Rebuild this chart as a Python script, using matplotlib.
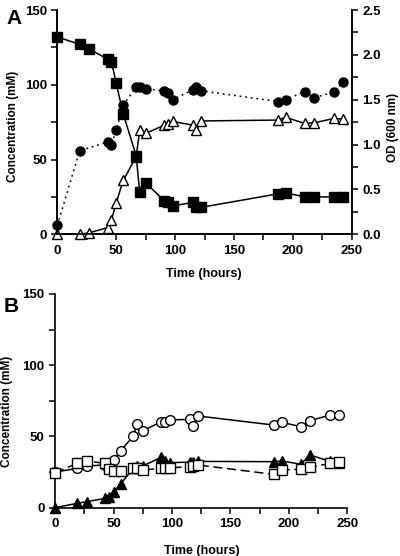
import numpy as np
import matplotlib
matplotlib.use("Agg")
import matplotlib.pyplot as plt
from matplotlib.ticker import MultipleLocator, FormatStrFormatter

plt.rcParams["font.family"] = ["Liberation Sans", "DejaVu Sans"]
plt.rcParams["font.weight"] = "bold"
plt.rcParams["axes.labelweight"] = "bold"

# sampling times (hours)
time_h = [0, 19, 27, 43, 46, 50, 56, 67, 70, 75, 91, 94, 98, 115, 118, 122,
          187, 194, 210, 218, 235, 243]

# panel A
a_squares = [132, 127, 124, 117, 115.5, 101, 80.5, 52.5, 28, 34.5, 22.3, 21.8,
             19, 21.3, 18, 18, 27, 27.7, 25, 25, 25, 25]
a_triangles = [0, 0, 1, 4.5, 9.5, 21, 36, 52, 69.5, 67.5, 73, 73.5, 75.5,
               73, 69.7, 75.8, 76.4, 78.2, 74.2, 74.5, 77.5, 77]
a_od = [0.10, 0.93, np.nan, 1.03, 1.00, 1.16, 1.44, 1.64, 1.64, 1.62, 1.60,
        1.57, 1.50, 1.61, 1.645, 1.60, 1.48, 1.50, 1.59, 1.52, 1.59, 1.70]

# panel B
b_circles = [25, 27.6, 29.3, 30, 29.5, 33.5, 39.8, 50.3, 58.5, 54, 60.4, 60,
             61.6, 62, 57.3, 64.4, 58, 59.9, 56.9, 61.1, 65, 65]
b_squares = [24.6, 31.1, 32.8, 31.1, 27, 26, 26, 27.6, 27.6, 26.5, 27.6, 28,
             28, 28.8, 29, 30, 23.4, 26.5, 27, 28.3, 31.1, 32.3]
b_triangles = [0, 3.1, 4.2, 6.6, 7.7, 11.2, 16.6, 27.6, 29, 29.3, 35.4, 33,
               31.6, 32, 32, 32.5, 32.3, 32.8, 30.5, 37, 32.5, 31.5]

W, H = 400, 556
fig = plt.figure(figsize=(W / 100, H / 100), dpi=100)


def box(x0, x1, ytop, ybot):
    return [x0 / W, 1 - ybot / H, (x1 - x0) / W, (ybot - ytop) / H]


def style_axis(ax, right=False):
    ax.set_xlim(0, 250)
    ax.xaxis.set_major_locator(MultipleLocator(50))
    ax.xaxis.set_minor_locator(MultipleLocator(25))
    ax.yaxis.set_major_locator(MultipleLocator(50))
    ax.yaxis.set_minor_locator(MultipleLocator(25))
    ax.spines["top"].set_visible(False)
    ax.spines["right"].set_visible(right)
    for s in ax.spines.values():
        s.set_linewidth(1.2)
    ax.tick_params(which="both", direction="out", length=4, width=1.1,
                   labelsize=9.5)


mk = dict(clip_on=False, color="black", linewidth=1.1)

# ---- Panel A
axA = fig.add_axes(box(57.3, 351.7, 10, 234.3))
axA.set_ylim(0, 150)
axA.plot(time_h, a_triangles, marker="^", markersize=7, markerfacecolor="white",
         markeredgecolor="black", markeredgewidth=1.0, zorder=3, **mk)
axA.plot(time_h, a_squares, marker="s", markersize=7, zorder=4, **mk)
style_axis(axA, right=True)
axA.set_ylabel("Concentration (mM)", fontsize=8.5)
axA.yaxis.set_label_coords(19 / W, 1 - 126 / H, transform=fig.transFigure)
axA.set_xlabel("Time (hours)", fontsize=9)
axA.xaxis.set_label_coords(204 / W, 1 - 268 / H, transform=fig.transFigure)

axR = axA.twinx()
axR.set_ylim(0, 2.5)
od_t = [t for t, v in zip(time_h, a_od) if not np.isnan(v)]
od_v = [v for v in a_od if not np.isnan(v)]
axR.plot(od_t, od_v, marker="o", markersize=6.5, linestyle=(0, (1.2, 2.5)),
         zorder=5, **mk)
axR.set_xlim(0, 250)
axR.yaxis.set_major_locator(MultipleLocator(0.5))
axR.yaxis.set_minor_locator(MultipleLocator(0.25))
axR.yaxis.set_major_formatter(FormatStrFormatter("%.1f"))
axR.spines["top"].set_visible(False)
for s in axR.spines.values():
    s.set_linewidth(1.2)
axR.tick_params(which="both", direction="out", length=4, width=1.1,
                labelsize=9.5)
axR.set_ylabel("OD (600 nm)", fontsize=8.5)
axR.yaxis.set_label_coords(387 / W, 1 - 127 / H, transform=fig.transFigure)

fig.text(14 / W, 1 - 18 / H, "A", fontsize=15, ha="center", va="center")

# ---- Panel B
axB = fig.add_axes(box(55, 347.5, 294, 507.7))
axB.set_ylim(0, 150)
axB.plot(time_h, b_triangles, marker="^", markersize=7, zorder=3, **mk)
axB.plot(time_h, b_circles, marker="o", markersize=7, markerfacecolor="white",
         markeredgecolor="black", markeredgewidth=1.0, zorder=4, **mk)
axB.plot(time_h, b_squares, marker="s", markersize=7, markerfacecolor="white",
         markeredgecolor="black", markeredgewidth=1.0, linestyle=(0, (6, 3)),
         zorder=5, **mk)
style_axis(axB)
axB.set_ylabel("Concentration (mM)", fontsize=8.5)
axB.yaxis.set_label_coords(13 / W, 1 - 411 / H, transform=fig.transFigure)
axB.set_xlabel("Time (hours)", fontsize=9)
axB.xaxis.set_label_coords(202 / W, 1 - 545 / H, transform=fig.transFigure)

fig.text(11 / W, 1 - 307 / H, "B", fontsize=15, ha="center", va="center")

fig.savefig("out.png", dpi=100)
